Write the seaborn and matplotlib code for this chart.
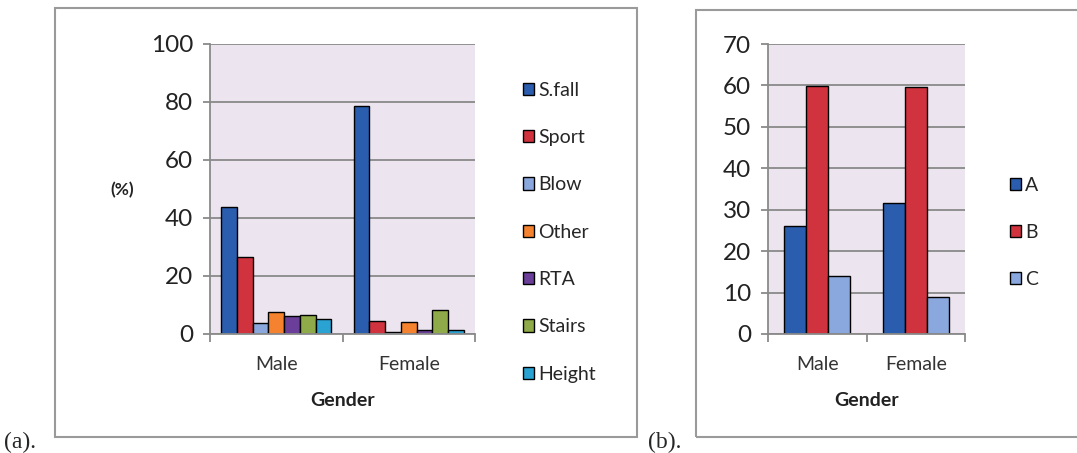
import numpy as np
import pandas as pd
import seaborn as sns
import matplotlib.pyplot as plt
from matplotlib.patches import Rectangle

# data
genders = ["Male", "Female"]
causes = ["S.fall", "Sport", "Blow", "Other", "RTA", "Stairs", "Height"]
male_a = [43.7, 26.4, 3.7, 7.7, 6.3, 6.6, 5.1]
female_a = [78.7, 4.4, 0.8, 4.0, 1.4, 8.3, 1.5]
groups_b = ["A", "B", "C"]
male_b = [26.1, 59.9, 14.1]
female_b = [31.7, 59.7, 8.9]

colors_a = ["#2B5DAE", "#D0323E", "#8AA8DD", "#F5822E", "#6A3E99", "#8FAA48", "#2AA3D3"]
colors_b = ["#2B5DAE", "#D0323E", "#8AA8DD"]

df_a = pd.DataFrame({
    "Gender": ["Male"] * len(causes) + ["Female"] * len(causes),
    "Cause": causes * 2,
    "Value": male_a + female_a,
})
df_b = pd.DataFrame({
    "Gender": ["Male"] * len(groups_b) + ["Female"] * len(groups_b),
    "Group": groups_b * 2,
    "Value": male_b + female_b,
})

sns.set_style("white")
plt.rcParams["font.family"] = ["Lato", "DejaVu Sans"]

W, H = 1077, 453
fig = plt.figure(figsize=(W / 100, H / 100), dpi=100)


def fx(px):
    return px / W


def fy(py):
    return 1 - py / H


# panel frames
fig.add_artist(Rectangle((fx(55), fy(437)), fx(637 - 55), fy(8) - fy(437),
                         transform=fig.transFigure, fill=False, ec="#9a9a9a", lw=1.5))
fig.add_artist(Rectangle((fx(696), fy(437)), fx(1090 - 696), fy(10) - fy(437),
                         transform=fig.transFigure, fill=False, ec="#9a9a9a", lw=1.5))

ax1 = fig.add_axes([fx(210), fy(334), fx(475 - 210), fy(44) - fy(334)])
ax2 = fig.add_axes([fx(768), fy(334), fx(965 - 768), fy(44) - fy(334)])

sns.barplot(data=df_a, x="Gender", y="Value", hue="Cause", palette=colors_a,
            width=0.83, saturation=1, edgecolor="black", linewidth=1, ax=ax1)
sns.barplot(data=df_b, x="Gender", y="Value", hue="Group", palette=colors_b,
            width=0.67, saturation=1, edgecolor="black", linewidth=1, ax=ax2)


def style(ax, ymax, step):
    ax.set_facecolor("#ECE4EF")
    ax.set_ylim(0, ymax)
    ax.set_xlim(-0.5, 1.5)
    ax.set_yticks(np.arange(0, ymax + 1, step))
    ax.yaxis.grid(True, color="#8a8a8a", lw=1.3)
    ax.set_axisbelow(True)
    for s in ["top", "right"]:
        ax.spines[s].set_visible(False)
    for s in ["left", "bottom"]:
        ax.spines[s].set_color("#8a8a8a")
        ax.spines[s].set_linewidth(1.3)
    ax.tick_params(axis="y", which="major", left=True, length=5, width=1.3,
                   color="#8a8a8a", labelsize=17.5, pad=7, labelcolor="#222222")
    ax.set_xticks([-0.5, 0.5, 1.5], minor=True)
    ax.tick_params(axis="x", which="minor", bottom=True, length=6, width=1.3,
                   color="#8a8a8a")
    ax.tick_params(axis="x", which="major", bottom=False, labelsize=14, pad=12,
                   labelcolor="#333333")
    ax.set_xlabel("Gender", fontsize=14, fontweight="bold", labelpad=14,
                  color="#222222")
    ax.set_ylabel("")


style(ax1, 100, 20)
style(ax2, 70, 10)

h1, l1 = ax1.get_legend_handles_labels()
ax1.legend(h1, l1, loc="upper left", bbox_to_anchor=(fx(515), fy(74)),
           bbox_transform=fig.transFigure, frameon=False, fontsize=14,
           handlelength=0.6, handleheight=0.6, handletextpad=0.2,
           labelspacing=1.56, borderaxespad=0)
h2, l2 = ax2.get_legend_handles_labels()
ax2.legend(h2, l2, loc="upper left", bbox_to_anchor=(fx(1002), fy(169)),
           bbox_transform=fig.transFigure, frameon=False, fontsize=14,
           handlelength=0.6, handleheight=0.6, handletextpad=0.2,
           labelspacing=1.55, borderaxespad=0)

fig.text(fx(122), fy(190), "(%)", fontsize=12.5, fontweight="bold",
         ha="center", va="center", color="#222222")
fig.text(fx(4), fy(448), "(a).", family="Liberation Serif", fontsize=17,
         ha="left", va="baseline")
fig.text(fx(648), fy(448), "(b).", family="Liberation Serif", fontsize=17,
         ha="left", va="baseline")

fig.savefig("out.png", dpi=100)
